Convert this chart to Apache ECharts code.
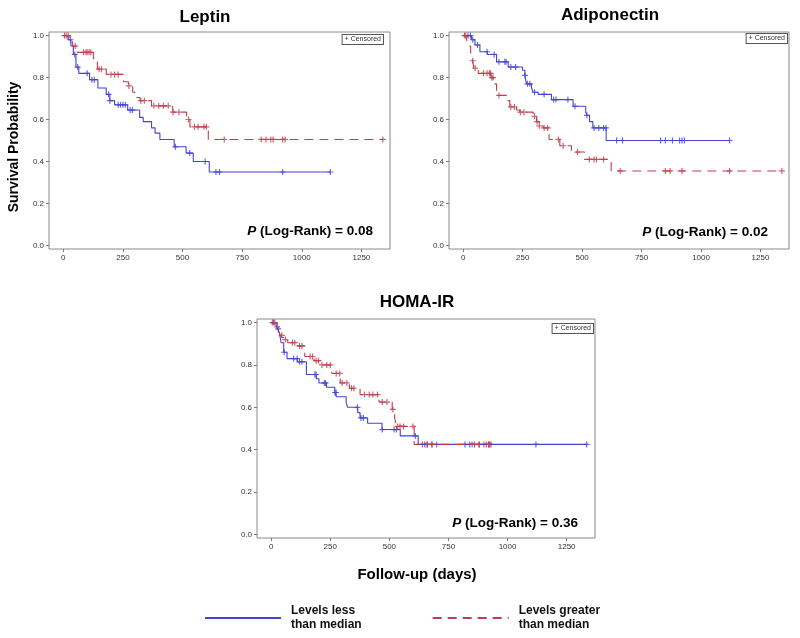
<!DOCTYPE html>
<html>
<head>
<meta charset="utf-8">
<title>Kaplan-Meier curves</title>
<script src="https://cdn.jsdelivr.net/npm/echarts@6.0.0/dist/echarts.min.js"></script>
<style>
  html, body { margin: 0; padding: 0; background: #fff; }
  #chart { width: 800px; height: 638px; }
</style>
</head>
<body>
<div id="chart"></div>
<script>
// survival steps (days, probability after the drop)
const leptinLowT = [0, 20, 32, 42, 53, 65, 110, 145, 180, 195, 215, 270, 320, 335, 370, 385, 405, 465, 515, 545, 612, 1120]
const leptinLowS = [1.0, 0.98, 0.95, 0.91, 0.85, 0.82, 0.79, 0.75, 0.72, 0.69, 0.67, 0.645, 0.61, 0.59, 0.56, 0.535, 0.505, 0.47, 0.44, 0.40, 0.35, 0.35]
const leptinLowCens = [30, 48, 60, 100, 120, 130, 190, 195, 230, 240, 250, 260, 280, 290, 470, 530, 595, 640, 655, 920, 1120]
const leptinHighT = [0, 28, 39, 59, 126, 143, 180, 252, 273, 291, 300, 322, 370, 459, 517, 531, 608, 1340]
const leptinHighS = [1.0, 0.98, 0.95, 0.92, 0.89, 0.84, 0.815, 0.78, 0.76, 0.73, 0.705, 0.69, 0.665, 0.635, 0.60, 0.565, 0.505, 0.505]
const leptinHighCens = [5, 12, 20, 50, 85, 95, 100, 108, 115, 150, 160, 200, 215, 230, 275, 325, 340, 380, 400, 420, 440, 460, 485, 525, 550, 565, 590, 600, 675, 830, 850, 870, 880, 920, 930, 1340]

const adipoLowT = [0, 35, 49, 70, 102, 140, 189, 249, 259, 266, 287, 294, 315, 371, 462, 515, 520, 531, 545, 601, 1120]
const adipoLowS = [1.0, 0.98, 0.955, 0.923, 0.91, 0.875, 0.85, 0.835, 0.81, 0.77, 0.75, 0.73, 0.72, 0.695, 0.663, 0.636, 0.62, 0.59, 0.56, 0.50, 0.50]
const adipoLowCens = [20, 30, 40, 60, 100, 130, 150, 175, 180, 200, 220, 260, 270, 280, 300, 340, 380, 390, 440, 470, 520, 550, 570, 590, 600, 645, 670, 830, 850, 880, 910, 920, 930, 1120]
const adipoHighT = [0, 14, 21, 31, 39, 45, 63, 116, 126, 140, 182, 196, 224, 238, 294, 308, 319, 336, 361, 406, 455, 510, 622, 1340]
const adipoHighS = [1.0, 0.98, 0.95, 0.92, 0.88, 0.845, 0.82, 0.80, 0.77, 0.715, 0.69, 0.66, 0.645, 0.635, 0.615, 0.59, 0.57, 0.56, 0.505, 0.475, 0.445, 0.41, 0.355, 0.355]
const adipoHighCens = [5, 10, 40, 50, 85, 100, 110, 115, 120, 125, 150, 200, 215, 240, 255, 300, 310, 320, 340, 355, 400, 420, 480, 530, 550, 560, 590, 660, 850, 870, 920, 1120, 1340]

const homaLowT = [0, 21, 28, 35, 42, 53, 67, 111, 149, 191, 202, 234, 269, 276, 317, 323, 366, 376, 408, 469, 546, 622, 1335]
const homaLowS = [1.0, 0.985, 0.97, 0.95, 0.905, 0.86, 0.83, 0.815, 0.755, 0.735, 0.715, 0.695, 0.67, 0.65, 0.625, 0.60, 0.575, 0.55, 0.525, 0.495, 0.465, 0.425, 0.425]
const homaLowCens = [10, 30, 55, 95, 110, 120, 130, 185, 190, 225, 230, 270, 275, 365, 380, 390, 470, 520, 530, 610, 650, 660, 680, 820, 840, 860, 880, 920, 925, 1120, 1335]
const homaHighT = [0, 25, 31, 39, 46, 56, 70, 111, 142, 181, 209, 251, 257, 292, 331, 376, 456, 512, 522, 529, 605, 930]
const homaHighS = [1.0, 0.98, 0.96, 0.94, 0.93, 0.92, 0.905, 0.89, 0.84, 0.82, 0.80, 0.78, 0.76, 0.715, 0.69, 0.66, 0.625, 0.59, 0.555, 0.51, 0.425, 0.425]
const homaHighCens = [5, 15, 25, 45, 60, 90, 100, 120, 130, 165, 175, 190, 200, 215, 235, 250, 275, 290, 300, 320, 340, 350, 395, 415, 430, 450, 470, 490, 515, 535, 545, 560, 600, 640, 660, 680, 700, 850, 880, 900, 910, 920, 930]

const panelTitles = ['Leptin', 'Adiponectin', 'HOMA-IR']
const pValues = ['0.08', '0.02', '0.36']
const xTicks = [0, 250, 500, 750, 1000, 1250]
const yTicks = [0, 0.2, 0.4, 0.6, 0.8, 1.0]
const lowName = 'Levels less\nthan median'
const highName = 'Levels greater\nthan median'

const FONT = "'Liberation Sans', Arial, sans-serif"
const BLUE = '#4343d4'
const RED = '#c23c4c'
const PLUS = 'path://M0,2H5V3H0Z M2,0H3V5H2Z'

function steps (t, s) {
  return t.map((v, i) => [v, s[i]])
}

// a censored mark sits on the curve at that time
function censorPoints (cens, t, s) {
  return cens.map(c => {
    let k = 0
    for (let i = 0; i < t.length; i++) if (t[i] <= c) k = i
    return [c, s[k]]
  })
}

const curves = [
  { low: [leptinLowT, leptinLowS, leptinLowCens], high: [leptinHighT, leptinHighS, leptinHighCens] },
  { low: [adipoLowT, adipoLowS, adipoLowCens], high: [adipoHighT, adipoHighS, adipoHighCens] },
  { low: [homaLowT, homaLowS, homaLowCens], high: [homaHighT, homaHighS, homaHighCens] }
]

const grids = [
  { left: 49, top: 32, width: 341, height: 217 },
  { left: 449, top: 32, width: 340, height: 217 },
  { left: 257, top: 319, width: 338, height: 219 }
]

const option = {
  animation: false,
  backgroundColor: '#fff',
  textStyle: { fontFamily: FONT },
  grid: grids.map(g => Object.assign({ show: true, borderColor: '#8a8a8a', borderWidth: 1, containLabel: false }, g)),
  xAxis: grids.map((g, i) => ({
    type: 'value', gridIndex: i, min: -60, max: 1370,
    axisLine: { show: false, onZero: false },
    axisTick: { show: true, length: 3, customValues: xTicks, lineStyle: { color: '#777' } },
    axisLabel: { customValues: xTicks, fontSize: 8, color: '#333', margin: 5, formatter: v => String(v) },
    splitLine: { show: false }
  })),
  yAxis: grids.map((g, i) => ({
    type: 'value', gridIndex: i, min: -0.017, max: 1.017,
    axisLine: { show: false, onZero: false },
    axisTick: { show: true, length: 3, customValues: yTicks, lineStyle: { color: '#777' } },
    axisLabel: { customValues: yTicks, fontSize: 8, color: '#333', margin: 5, formatter: v => v.toFixed(1) },
    splitLine: { show: false }
  })),
  legend: {
    data: [lowName, highName],
    left: 204, top: 604, padding: 0,
    itemWidth: 76, itemHeight: 12, itemGap: 70,
    itemStyle: { opacity: 0 },
    textStyle: { fontSize: 12, fontWeight: 'bold', color: '#111', lineHeight: 14, padding: [0, 0, 0, 5] }
  },
  series: [],
  graphic: []
}

curves.forEach((c, i) => {
  option.series.push({
    name: lowName, type: 'line', step: 'end', xAxisIndex: i, yAxisIndex: i,
    data: steps(c.low[0], c.low[1]), symbol: 'none', color: BLUE,
    lineStyle: { color: BLUE, width: 1.1 }
  })
  option.series.push({
    name: highName, type: 'line', step: 'end', xAxisIndex: i, yAxisIndex: i,
    data: steps(c.high[0], c.high[1]), symbol: 'none', color: RED,
    lineStyle: { color: RED, width: 1.1, type: [9, 6] }
  })
  option.series.push({
    name: 'censLow' + i, type: 'scatter', xAxisIndex: i, yAxisIndex: i,
    data: censorPoints(c.low[2], c.low[0], c.low[1]),
    symbol: PLUS, symbolSize: 6, itemStyle: { color: BLUE }
  })
  option.series.push({
    name: 'censHigh' + i, type: 'scatter', xAxisIndex: i, yAxisIndex: i,
    data: censorPoints(c.high[2], c.high[0], c.high[1]),
    symbol: PLUS, symbolSize: 6, itemStyle: { color: RED }
  })
})

const titlePos = [[205, 17], [610, 15], [417, 302]]
const pPos = [[373, 231], [768, 232], [578, 523]]
const censBox = [[383, 35], [787, 34], [593, 324]]

panelTitles.forEach((t, i) => {
  option.graphic.push({
    type: 'text', x: titlePos[i][0], y: titlePos[i][1],
    style: { text: t, font: 'bold 17px ' + FONT, fill: '#000', align: 'center', verticalAlign: 'middle' }
  })
  option.graphic.push({
    type: 'text', x: pPos[i][0], y: pPos[i][1],
    style: {
      text: '{i|P} (Log-Rank) = ' + pValues[i],
      font: 'bold 13.5px ' + FONT, fill: '#000', align: 'right', verticalAlign: 'middle',
      rich: { i: { fontStyle: 'italic', fontWeight: 'bold', fontSize: 13.5, fontFamily: FONT } }
    }
  })
  option.graphic.push({
    type: 'text', x: censBox[i][0], y: censBox[i][1],
    style: {
      text: '+ Censored', font: '7px ' + FONT, fill: '#333', align: 'right', verticalAlign: 'top',
      borderColor: '#555', borderWidth: 1, padding: [1, 2, 1, 2], backgroundColor: '#fff'
    }
  })
})

option.graphic.push({
  type: 'text', x: 14, y: 147, rotation: Math.PI / 2,
  style: { text: 'Survival Probability', font: 'bold 14px ' + FONT, fill: '#000', align: 'center', verticalAlign: 'middle' }
})
option.graphic.push({
  type: 'text', x: 417, y: 575,
  style: { text: 'Follow-up (days)', font: 'bold 15px ' + FONT, fill: '#000', align: 'center', verticalAlign: 'middle' }
})

const myChart = echarts.init(document.getElementById('chart'))
myChart.setOption(option)
</script>
</body>
</html>
